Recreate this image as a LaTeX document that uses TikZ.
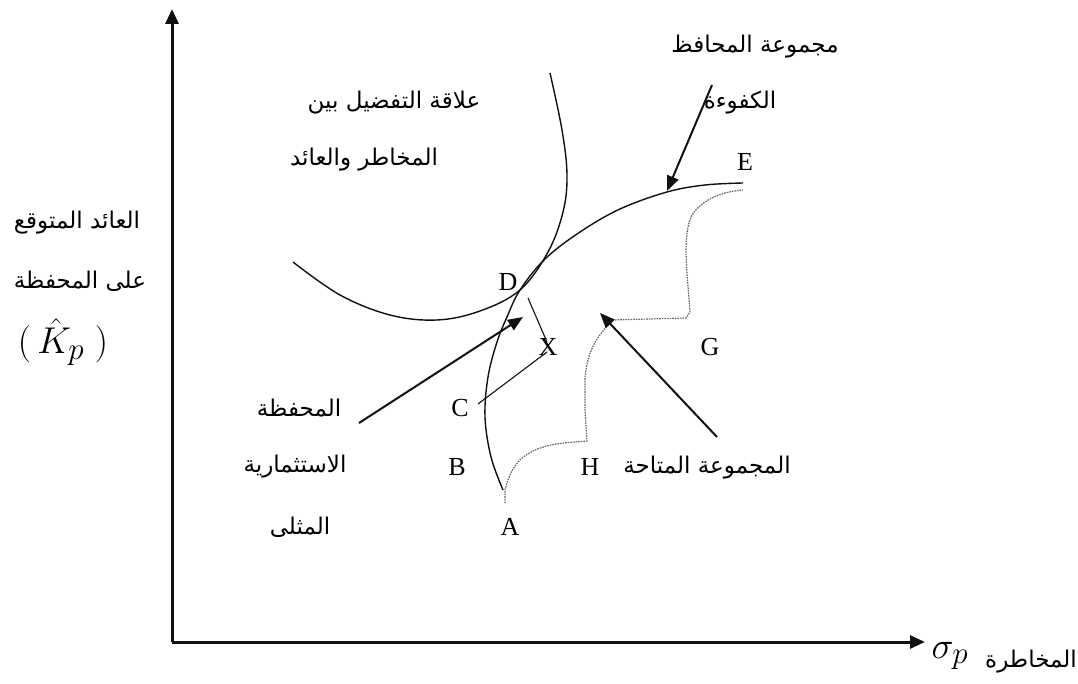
\documentclass[tikz,border=0pt]{standalone}
\usepackage{fontspec}
\setmainfont{Liberation Serif}
\newfontfamily\arabicfont[Script=Arabic]{DejaVu Sans}
\TeXXeTstate=1
\usepackage{tikz}
\usetikzlibrary{arrows.meta,positioning}
\definecolor{Ink}{HTML}{111111}
\definecolor{Dots}{HTML}{666666}

\begin{document}
\begin{tikzpicture}[x=1pt,y=-1pt,
  ar/.style={font=\arabicfont\fontsize{23}{26}\selectfont,inner sep=0pt},
  pt/.style={font=\fontsize{26}{28}\selectfont,inner sep=0pt},
  maths/.style={font=\Huge,inner sep=0pt},
  axis/.style={Ink,line width=3pt,-{Triangle[length=15pt,width=13pt]}},
  pointer/.style={Ink,line width=2pt,-{Triangle[length=15pt,width=12pt]}},
  leader/.style={Ink,line width=1.1pt},
  curve/.style={Ink,line width=1.4pt}]
  \useasboundingbox (0,0) rectangle (1078,684);
  % axes
  \coordinate (O) at (172,642);
  \coordinate (ytip) at (172,9);
  \coordinate (xtip) at (925,642);
  \draw[axis] (O) -- (ytip);
  \draw[axis] (O) -- (xtip);
  \node[maths,scale=1.5] (sig) at (950,656) {$\sigma_p$};
  \node[ar] (risk) at (1031,662) {\beginR المخاطرة\endR};
  \node[ar] (ret1) at (77,223) {\beginR العائد المتوقع\endR};
  \node[ar] (ret2) at (80,281) {\beginR على المحفظة\endR};
  \node[maths,scale=1.5] (khat) at (63,342) {$(\,\hat{K}_p\;)$};
  % labels
  \node[ar] (ind1) at (394,103) {\beginR علاقة التفضيل بين\endR};
  \node[ar] (ind2) at (364,160) {\beginR المخاطر والعائد\endR};
  \node[ar] (eff1) at (755,47) {\beginR مجموعة المحافظ\endR};
  \node[ar] (eff2) at (740,103) {\beginR الكفوءة\endR};
  \node[ar] (opt1) at (299,408) {\beginR المحفظة\endR};
  \node[ar] (opt2) at (295,467) {\beginR الاستثمارية\endR};
  \node[ar] (opt3) at (300,527) {\beginR المثلى\endR};
  \node[ar] (feas) at (707,468) {\beginR المجموعة المتاحة\endR};
  \foreach \lab/\px/\py in {A/510/527, B/457/467, C/460/408, D/508/282,
      E/745/162, G/710/347, H/590/467, X/548/347} {
    \node[pt] (\lab) at (\px,\py) {\lab};
  }
  % indifference curve
  \draw[curve] plot[smooth,tension=0.6] coordinates {(293,262) (340,295)
    (390,315) (437,320) (480,311) (520,290) (548,252) (563,212)
    (567,175) (562,130) (550,73)};
  % efficient frontier
  \draw[curve] plot[smooth,tension=0.6] coordinates {(503,490) (491,457)
    (485,417) (488,377) (497,342) (507,317) (520,290) (545,259)
    (580,232) (620,209) (667,192) (705,185) (743,183)};
  % feasible set
  \draw[Dots,line width=1.2pt,dash pattern=on 1.6pt off 1pt]
    (505,503) -- (505,490) .. controls (512,462) and (525,445) .. (575,442)
    -- (587,441) -- (585,410) -- (585,378)
    .. controls (588,345) and (600,335) .. (612,320) -- (686,318)
    -- (690,312) .. controls (687,270) and (682,235) .. (692,215)
    .. controls (702,200) and (720,192) .. (743,190);
  % pointers
  \coordinate (effS) at (712,85);
  \coordinate (effT) at (667,191);
  \draw[pointer] (effS) -- (effT);
  \coordinate (optS) at (359,423);
  \coordinate (optT) at (523,317);
  \draw[pointer] (optS) -- (optT);
  \coordinate (feaS) at (717,437);
  \coordinate (feaT) at (600,313);
  \draw[pointer] (feaS) -- (feaT);
  \coordinate (dx1) at (528,298);
  \coordinate (dx2) at (547,342);
  \draw[leader] (dx1) -- (dx2);
  \coordinate (xc1) at (547,352);
  \coordinate (xc2) at (478,404);
  \draw[leader] (xc1) -- (xc2);
\end{tikzpicture}
\end{document}
